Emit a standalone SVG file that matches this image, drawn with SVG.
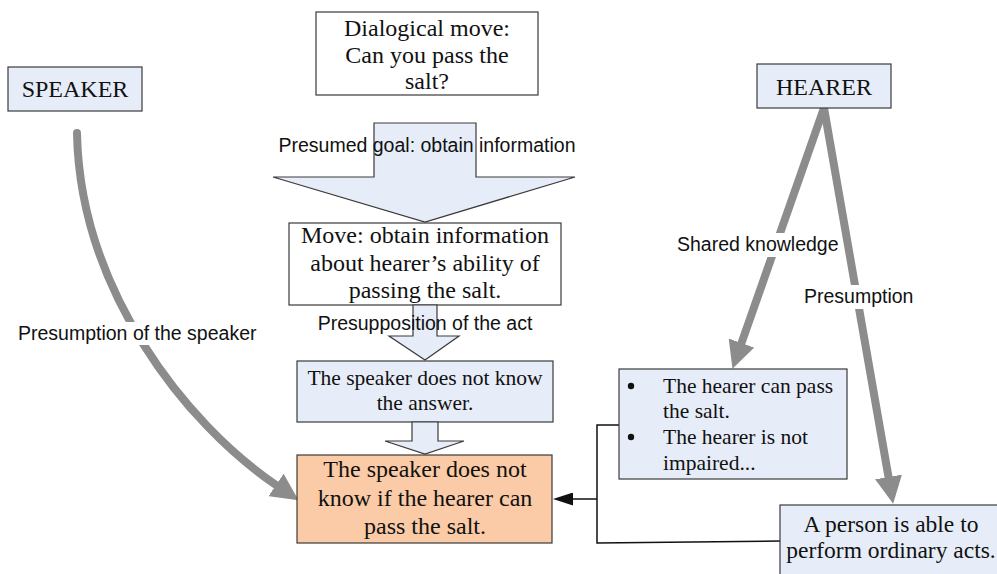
<svg xmlns="http://www.w3.org/2000/svg" width="997" height="574" viewBox="0 0 997 574">
<defs>
<style>
.box{stroke:#3a3a3a;stroke-width:1.2}
.blue{fill:#E7EDF8}
.white{fill:#ffffff}
.orange{fill:#FACBA6}
.t{font-family:"Liberation Serif","Times New Roman",serif;font-size:24px;fill:#111;text-anchor:middle}
.ts{font-family:"Liberation Serif","Times New Roman",serif;font-size:21.5px;fill:#111}
.lab{font-family:"Liberation Sans",Arial,sans-serif;font-size:19.5px;fill:#111}
.gray{fill:none;stroke:#8C8C8C;stroke-width:8;stroke-linecap:round}
.blk{fill:none;stroke:#111;stroke-width:1.5}
.bg{fill:#ffffff}
</style>
<marker id="gh" viewBox="0 0 10 10" refX="0" refY="5" markerWidth="3.4" markerHeight="3.4" markerUnits="strokeWidth" orient="auto">
<path d="M0,0 L10,5 L0,10 z" fill="#8C8C8C"/>
</marker>
<marker id="bh" viewBox="0 0 20 13" refX="0" refY="6.5" markerWidth="20" markerHeight="13" markerUnits="userSpaceOnUse" orient="auto">
<path d="M0,0 L20,6.5 L0,13 z" fill="#111"/>
</marker>
</defs>
<rect width="997" height="574" fill="#ffffff"/>

<g id="connectors">
<path class="gray" d="M77,133 C80,290 186,424 276,485" marker-end="url(#gh)"/>
<line class="gray" x1="824" y1="108" x2="741.5" y2="343" marker-end="url(#gh)"/>
<line class="gray" x1="824" y1="108" x2="888.5" y2="477" marker-end="url(#gh)"/>
<polyline class="blk" points="619,425 597,425 597,543 780,541"/>
<line class="blk" x1="597" y1="499" x2="573" y2="499" marker-end="url(#bh)"/>
<rect class="bg" x="674" y="233" width="168" height="24"/>
<text class="lab" x="677" y="251">Shared knowledge</text>
<rect class="bg" x="801" y="285" width="115" height="24"/>
<text class="lab" x="804" y="303">Presumption</text>
<rect class="bg" x="15" y="322" width="245" height="23"/>
<text class="lab" x="18" y="340">Presumption of the speaker</text>
</g>

<g id="speaker">
<rect class="box blue" x="8" y="67" width="134" height="44"/>
<text class="t" x="75" y="97">SPEAKER</text>
</g>

<g id="hearer">
<rect class="box blue" x="757" y="64" width="134" height="44"/>
<text class="t" x="824" y="95">HEARER</text>
</g>

<g id="dialogical-move">
<rect class="box white" x="316" y="12" width="222" height="83"/>
<text class="t" x="427" y="36">Dialogical move:</text>
<text class="t" x="427" y="63">Can you pass the</text>
<text class="t" x="427" y="89">salt?</text>
</g>

<g id="arrow-goal">
<polygon class="box blue" points="374,123 476,123 476,177 575,177 425,222 273,177 374,177"/>
<text class="lab" x="427" y="152" text-anchor="middle">Presumed goal: obtain information</text>
</g>

<g id="move">
<rect class="box white" x="289" y="223" width="272" height="82"/>
<text class="t" x="425" y="243">Move: obtain information</text>
<text class="t" x="425" y="271">about hearer’s ability of</text>
<text class="t" x="425" y="298">passing the salt.</text>
</g>

<g id="arrow-presupposition">
<polygon class="box blue" points="413,305 437,305 437,336 459,336 425,360 389,336 413,336"/>
<text class="lab" x="425" y="330" text-anchor="middle">Presupposition of the act</text>
</g>

<g id="speaker-answer">
<rect class="box blue" x="297" y="361" width="256" height="61"/>
<text class="ts" x="425" y="385" text-anchor="middle">The speaker does not know</text>
<text class="ts" x="425" y="410" text-anchor="middle">the answer.</text>
</g>

<g id="arrow-small">
<polygon class="box blue" points="412,422 438,422 438,441 464,441 425,454 385,441 412,441"/>
</g>

<g id="conclusion">
<rect class="box orange" x="297" y="455" width="255" height="88"/>
<text class="t" x="425" y="477">The speaker does not</text>
<text class="t" x="425" y="506">know if the hearer can</text>
<text class="t" x="425" y="534">pass the salt.</text>
</g>

<g id="shared-knowledge">
<rect class="box blue" x="619" y="369" width="228" height="110"/>
<circle cx="631" cy="386" r="3.2" fill="#111"/>
<circle cx="631" cy="437" r="3.2" fill="#111"/>
<text class="ts" x="663" y="393">The hearer can pass</text>
<text class="ts" x="663" y="418">the salt.</text>
<text class="ts" x="663" y="444">The hearer is not</text>
<text class="ts" x="663" y="470">impaired...</text>
</g>

<g id="presumption">
<rect class="box blue" x="780" y="505" width="225" height="80"/>
<text class="ts" x="891" y="532" text-anchor="middle" style="font-size:23.5px">A person is able to</text>
<text class="ts" x="891" y="558" text-anchor="middle" style="font-size:23.5px">perform ordinary acts.</text>
</g>
</svg>
